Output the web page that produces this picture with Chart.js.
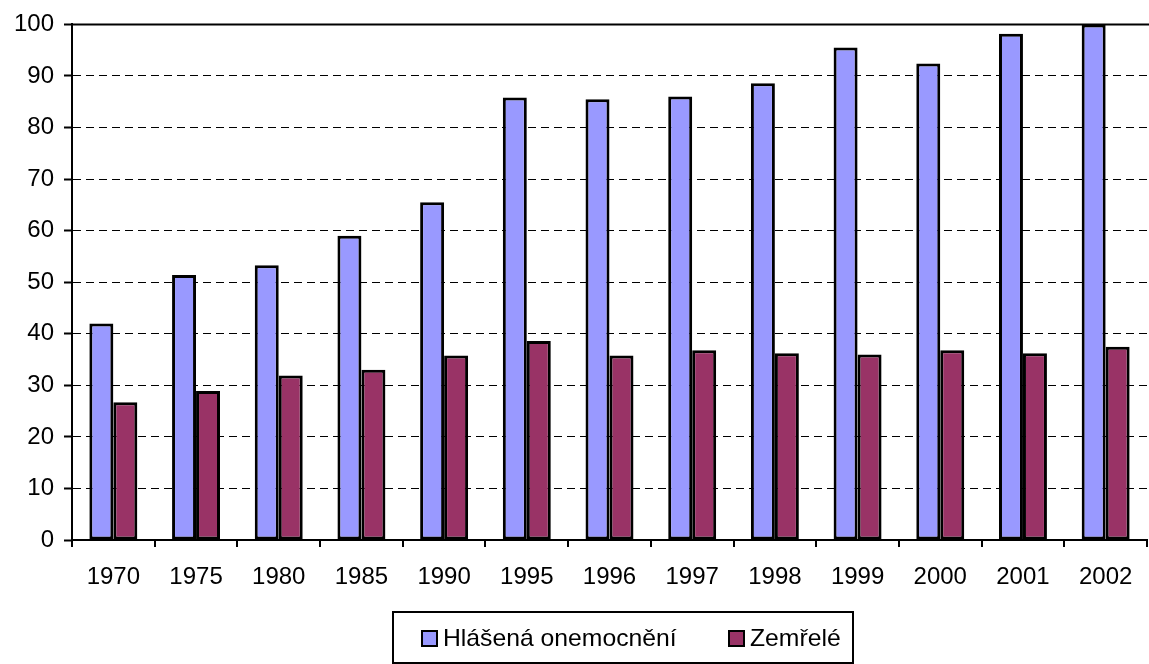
<!DOCTYPE html>
<html>
<head>
<meta charset="utf-8">
<script src="https://cdn.jsdelivr.net/npm/chart.js@4.4.0/dist/chart.umd.min.js"></script>
<style>
  html, body { margin: 0; padding: 0; background: #ffffff; }
  #wrap { position: relative; width: 1149px; height: 664px; }
</style>
</head>
<body>
<div id="wrap"><canvas id="c" width="1149" height="664"></canvas></div>
<script>
const categories = ['1970','1975','1980','1985','1990','1995','1996','1997','1998','1999','2000','2001','2002'];
const hlasena = [42.0, 51.4, 53.3, 59.0, 65.5, 85.8, 85.5, 86.0, 88.6, 95.5, 92.4, 98.2, 100];
const zemrele = [26.7, 28.9, 31.9, 33.0, 35.8, 38.6, 35.8, 36.8, 36.2, 36.0, 36.8, 36.2, 37.5];
const seriesNames = ['Hlášená onemocnění', 'Zemřelé'];
const yTicks = [0, 10, 20, 30, 40, 50, 60, 70, 80, 90, 100];

const FONT = '"Liberation Sans", Arial, sans-serif';

const framePlugin = {
  id: 'frame',
  afterDraw(chart) {
    const ctx = chart.ctx;
    const a = chart.chartArea;
    ctx.save();
    ctx.strokeStyle = '#000';
    ctx.lineWidth = 2;
    ctx.beginPath();
    ctx.moveTo(a.left, a.top);
    ctx.lineTo(chart.width, a.top);
    ctx.stroke();

    const bx = 393, by = 612, bw = 460, bh = 51;
    ctx.lineWidth = 2;
    ctx.strokeRect(bx, by, bw, bh);
    const items = chart.data.datasets.map(d => ({ label: d.label, color: d.backgroundColor }));
    const itemX = [422, 729];
    ctx.font = '24px ' + FONT;
    ctx.textBaseline = 'middle';
    ctx.textAlign = 'left';
    items.forEach((it, i) => {
      const x = itemX[i];
      const y = 631;
      ctx.fillStyle = it.color;
      ctx.fillRect(x, y, 15, 15);
      ctx.lineWidth = 2;
      ctx.strokeStyle = '#000';
      ctx.strokeRect(x, y, 15, 15);
      ctx.fillStyle = '#000';
      ctx.save();
      ctx.translate(x + 21, y + 8);
      ctx.scale(1.03, 1);
      ctx.fillText(it.label, 0, 0);
      ctx.restore();
    });
    ctx.restore();
  }
};

new Chart(document.getElementById('c'), {
  type: 'bar',
  data: {
    labels: categories,
    datasets: [
      { label: seriesNames[0], data: hlasena, backgroundColor: '#9999FF', borderColor: '#000', borderWidth: 3, borderSkipped: false },
      { label: seriesNames[1], data: zemrele, backgroundColor: '#993366', borderColor: '#000', borderWidth: 3, borderSkipped: false }
    ]
  },
  options: {
    responsive: false,
    animation: false,
    devicePixelRatio: 1,
    layout: { padding: { left: 0, right: 2, top: 24, bottom: 74 } },
    datasets: { bar: { categoryPercentage: 0.58, barPercentage: 1.0 } },
    plugins: {
      legend: { display: false },
      tooltip: { enabled: false }
    },
    scales: {
      x: {
        afterFit: s => { s.height = 50; },
        grid: { offset: true, drawOnChartArea: false, color: '#000', tickLength: 7, lineWidth: 2 },
        border: { display: true, color: '#000', width: 2 },
        ticks: { color: '#000', font: { family: FONT, size: 24 }, padding: 16, maxRotation: 0 }
      },
      y: {
        min: 0, max: 100,
        afterFit: s => { s.width = 72; },
        afterBuildTicks: s => { s.ticks = yTicks.map(v => ({ value: v })); },
        grid: { color: '#000', lineWidth: 1, tickLength: 8, tickColor: '#000', tickWidth: 2, tickBorderDash: [] },
        border: { display: true, color: '#000', width: 2, dash: [8, 5] },
        ticks: { color: '#000', font: { family: FONT, size: 24 }, padding: 10 }
      }
    }
  },
  plugins: [framePlugin]
});
</script>
</body>
</html>
